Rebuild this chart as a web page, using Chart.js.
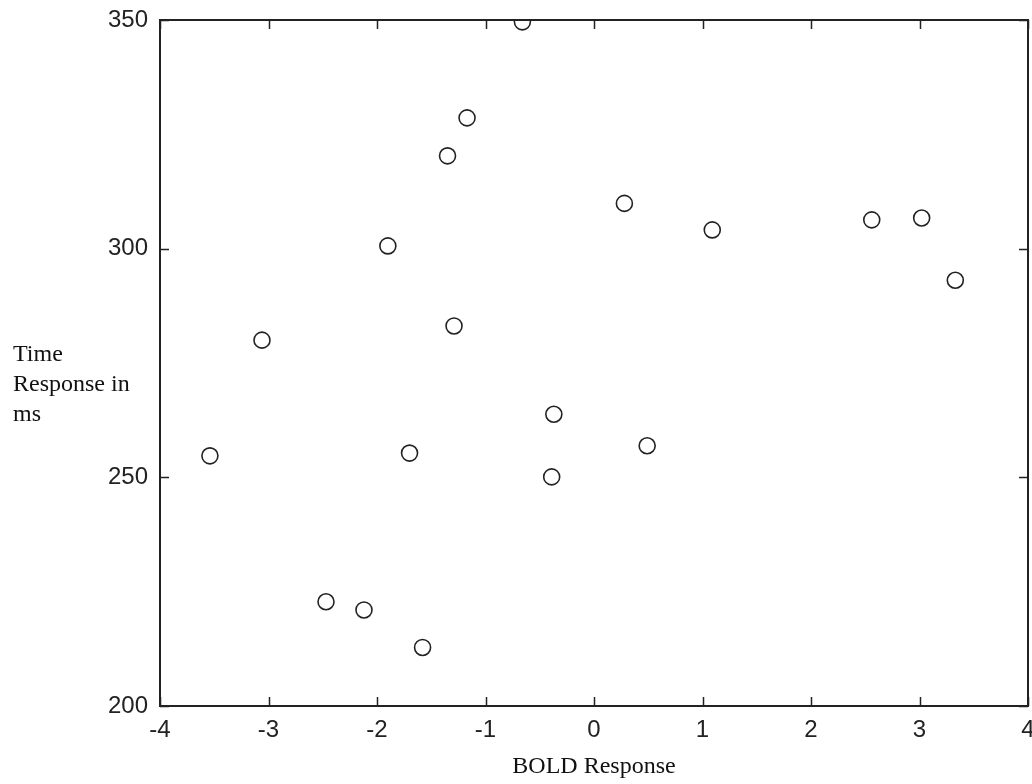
<!DOCTYPE html>
<html>
<head>
<meta charset="utf-8">
<title>BOLD Response vs Time Response</title>
<script src="https://cdn.jsdelivr.net/npm/chart.js@4/dist/chart.umd.min.js"></script>
<style>
  html, body { margin: 0; padding: 0; background: #fff; }
  #wrap { width: 1032px; height: 784px; position: relative; }
</style>
</head>
<body>
<div id="wrap"><canvas id="chart" width="1032" height="784"></canvas></div>
<script>
// ── Data ────────────────────────────────────────────────────────────────────
const boldResponse = [-3.54, -3.06, -2.47, -2.12, -1.90, -1.70, -1.58, -1.35, -1.29, -1.17,
                      -0.66, -0.37, -0.39, 0.28, 0.49, 1.09, 2.56, 3.02, 3.33];
const timeResponse = [254.7, 280.0, 222.8, 221.0, 300.6, 255.3, 212.8, 320.3, 283.1, 328.6,
                      349.6, 263.8, 250.1, 309.9, 256.9, 304.1, 306.3, 306.7, 293.1];
const xTicks = [-4, -3, -2, -1, 0, 1, 2, 3, 4];
const yTicks = [200, 250, 300, 350];
const xTitle = 'BOLD Response';
const yTitleLines = ['Time', 'Response in', 'ms'];

const points = boldResponse.map((x, i) => ({ x, y: timeResponse[i] }));

const INK = '#222';

// ── Box with inward tick marks on all four sides ────────────────────────────
const boxTicks = {
  id: 'boxTicks',
  afterDatasetsDraw(chart) {
    const { ctx, chartArea: a, scales: { x, y } } = chart;
    const len = 9;
    ctx.save();
    ctx.strokeStyle = INK;
    ctx.lineWidth = 2;
    ctx.strokeRect(a.left, a.top, a.right - a.left, a.bottom - a.top);
    ctx.lineWidth = 1.5;
    ctx.beginPath();
    xTicks.forEach(v => {
      const px = Math.round(x.getPixelForValue(v)) + 0.5;
      ctx.moveTo(px, a.bottom); ctx.lineTo(px, a.bottom - len);
      ctx.moveTo(px, a.top);    ctx.lineTo(px, a.top + len);
    });
    yTicks.forEach(v => {
      const py = Math.round(y.getPixelForValue(v)) + 0.5;
      ctx.moveTo(a.left, py);  ctx.lineTo(a.left + len, py);
      ctx.moveTo(a.right, py); ctx.lineTo(a.right - len, py);
    });
    ctx.stroke();
    ctx.restore();
  },
  afterDraw(chart) {
    // horizontal, wrapped y title at the far left
    const { ctx } = chart;
    ctx.save();
    ctx.font = '24px "Liberation Serif", "Times New Roman", serif';
    ctx.fillStyle = '#111';
    ctx.textAlign = 'left';
    ctx.textBaseline = 'alphabetic';
    yTitleLines.forEach((line, i) => ctx.fillText(line, 13, 361 + i * 30));
    ctx.restore();
  },
};

new Chart(document.getElementById('chart').getContext('2d'), {
  type: 'scatter',
  data: {
    datasets: [{
      data: points,
      pointStyle: 'circle',
      pointRadius: 8,
      pointHoverRadius: 8,
      borderWidth: 1.6,
      borderColor: INK,
      backgroundColor: 'rgba(255,255,255,0)',
    }],
  },
  options: {
    responsive: false,
    animation: false,
    events: [],
    layout: { autoPadding: false, padding: { left: 0, right: 4, top: 20, bottom: 0 } },
    plugins: {
      legend: { display: false },
      tooltip: { enabled: false },
    },
    scales: {
      x: {
        type: 'linear',
        min: -4,
        max: 4,
        afterBuildTicks: s => { s.ticks = xTicks.map(v => ({ value: v })); },
        afterFit: s => { s.height = 78; s.paddingLeft = 0; s.paddingRight = 0; },
        ticks: {
          color: INK,
          padding: 10,
          maxRotation: 0,
          autoSkip: false,
          font: { family: '"Liberation Sans", Arial, sans-serif', size: 24 },
        },
        grid: { display: false, drawTicks: false },
        border: { display: false },
        title: {
          display: true,
          text: xTitle,
          color: '#111',
          padding: { top: 0, bottom: 3 },
          font: { family: '"Liberation Serif", "Times New Roman", serif', size: 24 },
        },
      },
      y: {
        type: 'linear',
        min: 200,
        max: 350,
        afterBuildTicks: s => { s.ticks = yTicks.map(v => ({ value: v })); },
        afterFit: s => { s.width = 160; s.paddingTop = 0; s.paddingBottom = 0; },
        ticks: {
          color: INK,
          padding: 12,
          autoSkip: false,
          font: { family: '"Liberation Sans", Arial, sans-serif', size: 24 },
        },
        grid: { display: false, drawTicks: false },
        border: { display: false },
      },
    },
  },
  plugins: [boxTicks],
});
</script>
</body>
</html>
